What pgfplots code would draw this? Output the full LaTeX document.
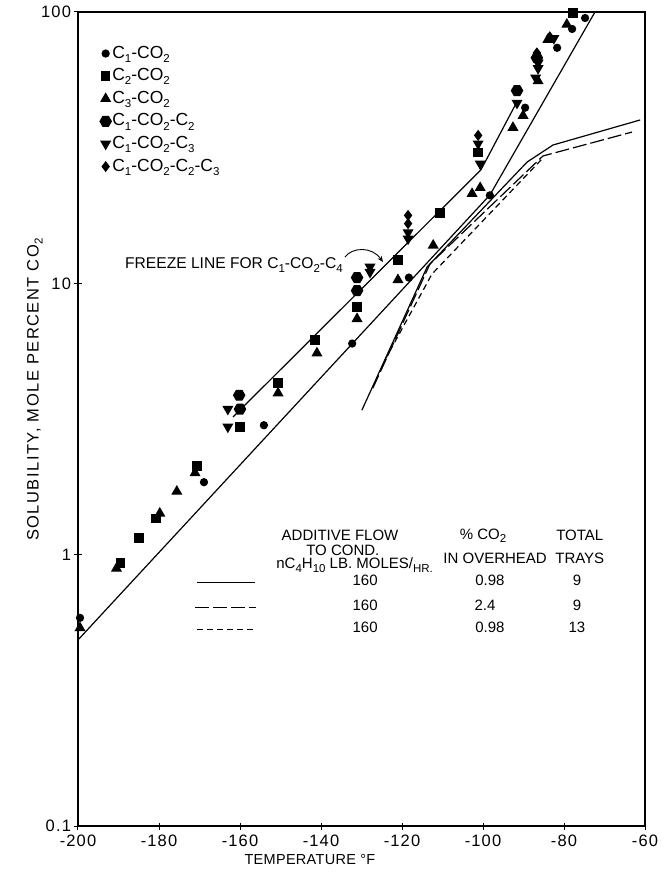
\documentclass[border=0pt]{standalone}
\usepackage{fontspec}
\setmainfont{Liberation Sans}
\usepackage{pgfplots}
\pgfplotsset{compat=1.18}
\usetikzlibrary{arrows.meta}

% lowered subscript in the lettering style
\newcommand\sub[1]{\raisebox{-0.45ex}{\fontsize{11.5}{11.5}\selectfont #1}}
\newcommand\lettering{\fontsize{15}{16}\selectfont}

% filled hexagon mark
\pgfdeclareplotmark{hexagon*}{%
  \pgfpathmoveto{\pgfpointpolar{0}{\pgfplotmarksize}}%
  \pgfpathlineto{\pgfpointpolar{60}{\pgfplotmarksize}}%
  \pgfpathlineto{\pgfpointpolar{120}{\pgfplotmarksize}}%
  \pgfpathlineto{\pgfpointpolar{180}{\pgfplotmarksize}}%
  \pgfpathlineto{\pgfpointpolar{240}{\pgfplotmarksize}}%
  \pgfpathlineto{\pgfpointpolar{300}{\pgfplotmarksize}}%
  \pgfpathclose
  \pgfusepathqfillstroke
}

\begin{document}
\begin{tikzpicture}
\begin{axis}[
  at={(0,0)}, anchor=south west,
  scale only axis, width=567pt, height=814pt,
  xmin=-200, xmax=-60,
  ymode=log, ymin=0.1, ymax=100,
  xtick={-200,-180,...,-60},
  xticklabels={-200,-180,-160,-140,-120,-100,-80,-60},
  ytick={0.1,1,10,100},
  yticklabels={0.1,1,10,100},
  yminorticks=false,
  tick pos=left,
  tick align=center,
  major tick length=7pt,
  axis line style={line width=1.5pt},
  tick style={line width=1pt, black},
  ticklabel style={font=\fontsize{16.5}{16.5}\selectfont\addfontfeature{LetterSpace=7}},
  xticklabel style={yshift=-1.5pt},
  xlabel={TEMPERATURE \textdegree F},
  xlabel style={at={(axis description cs:0.409,-0.041)}, anchor=center,
    font=\fontsize{14.5}{15}\selectfont\addfontfeature{LetterSpace=2}},
  ylabel={SOLUBILITY, MOLE PERCENT CO\sub{2}},
  ylabel style={at={(axis description cs:-0.076,0.536)}, anchor=center, rotate=0,
    font=\fontsize{16.5}{17}\selectfont\addfontfeature{LetterSpace=9}},
  legend style={at={(axis cs:-194.6,76)}, anchor=north west, draw=none, fill=none,
    font=\fontsize{17.5}{18}\selectfont, row sep=4.6pt, inner sep=0pt,
    nodes={inner sep=1pt, text height=12.5pt, text depth=3.5pt}},
  legend cell align=left,
  legend image code/.code={\draw[#1] plot coordinates {(4pt,0pt)};},
  every axis plot/.append style={line width=1.2pt},
]

% ---- measured solubility points ----
\addplot[only marks, mark=*, mark size=3.5pt, black] coordinates {
  (-199.5,0.585) (-168.9,1.85) (-154.1,3.0) (-132.3,6.0) (-118.3,10.5)
  (-98.3,21.1) (-89.6,44.4) (-81.7,73.8) (-78,86.6) (-74.8,95)
};
\addlegendentry{C\sub{1}-CO\sub{2}}

\addplot[only marks, mark=square*, mark size=4.2pt, black] coordinates {
  (-189.5,0.93) (-184.9,1.15) (-180.7,1.36) (-170.6,2.12) (-160,2.96)
  (-150.6,4.29) (-141.5,6.17) (-131.1,8.2) (-121,12.2) (-110.6,18.2)
  (-101.2,30.3) (-77.8,99)
};
\addlegendentry{C\sub{2}-CO\sub{2}}

\addplot[only marks, mark=triangle*, mark size=5.2pt, black] coordinates {
  (-199.5,0.537) (-190.5,0.89) (-179.8,1.42) (-175.6,1.71) (-171.1,2.0)
  (-150.6,3.94) (-141,5.53) (-131.1,7.4) (-121,10.3) (-112.3,13.8)
  (-102.7,21.4) (-100.7,22.5) (-92.6,37.5) (-90.1,41.5) (-86.4,55.7)
  (-84,79) (-79.3,90)
};
\addlegendentry{C\sub{3}-CO\sub{2}}

\addplot[only marks, mark=hexagon*, mark size=5.6pt, black] coordinates {
  (-160.2,3.87) (-160,3.44) (-131.1,10.5) (-131.1,9.4)
  (-91.6,51.3) (-86.7,67.8)
};
\addlegendentry{C\sub{1}-CO\sub{2}-C\sub{2}}

\addplot[only marks, mark=triangle*, mark size=5.2pt, mark options={rotate=180}, black] coordinates {
  (-163,3.44) (-163,2.96) (-127.9,11.5) (-127.9,11.0) (-118.5,15.4)
  (-118.5,14.6) (-101.2,32.7) (-100.7,27.6) (-91.6,46.2) (-87,57.2)
  (-86.4,64.9) (-86.4,62) (-82.5,80)
};
\addlegendentry{C\sub{1}-CO\sub{2}-C\sub{3}}

\addplot[only marks, mark=diamond*, mark size=4.6pt, black] coordinates {
  (-118.5,17.8) (-118.5,16.6) (-101.2,35.1) (-86.7,70.7) (-83.5,81)
};
\addlegendentry{C\sub{1}-CO\sub{2}-C\sub{2}-C\sub{3}}

% ---- correlation lines ----
\addplot[black, forget plot] coordinates {(-161.7,3.22) (-100.5,26.2) (-91.9,45.8)};
\addplot[black, forget plot] coordinates {(-200,0.485) (-98.3,21.16) (-72.35,100)};

% ---- column profiles ----
\addplot[black, forget plot] coordinates {
  (-129.9,3.41) (-113.8,11.49) (-89.1,28.0) (-82.7,32.35) (-61.2,40.0)};
\addplot[black, dash pattern=on 14pt off 4pt, forget plot] coordinates {
  (-127.2,4.11) (-113.1,11.78) (-85.2,29.47) (-63.2,36.1)};
\addplot[black, dash pattern=on 6pt off 4pt, forget plot] coordinates {
  (-124.2,5.22) (-112.6,10.82) (-85.2,28.97)};

% ---- freeze line annotation ----
\node[anchor=west, font=\fontsize{15.6}{16}\selectfont, inner sep=0pt] at (axis cs:-188.4,11.68)
  {FREEZE LINE FOR C\sub{1}-CO\sub{2}-C\sub{4}};
\draw[line width=0.9pt, -{Stealth[length=6pt,width=5pt]}]
  (axis cs:-134.1,12.5) .. controls (axis cs:-132.3,13.6) and (axis cs:-127.4,13.7) .. (axis cs:-124.7,11.98);

% ---- operating conditions table ----
\begin{scope}[every node/.style={font=\lettering, inner sep=0pt, anchor=center}]
\node at (axis cs:-135.3,1.175) {ADDITIVE FLOW};
\node at (axis cs:-134.6,1.035) {TO COND.};
\node at (axis cs:-131.7,0.916) {nC\sub{4}H\sub{10} LB. MOLES/\sub{HR.}};
\node at (axis cs:-100,1.175) {\% CO\sub{2}};
\node at (axis cs:-97,0.97) {IN OVERHEAD};
\node at (axis cs:-76.1,1.175) {TOTAL};
\node at (axis cs:-76.1,0.97) {TRAYS};
\node at (axis cs:-129.1,0.806) {160};
\node at (axis cs:-129.1,0.652) {160};
\node at (axis cs:-129.1,0.541) {160};
\node at (axis cs:-98.3,0.806) {0.98};
\node at (axis cs:-99.5,0.652) {2.4};
\node at (axis cs:-98.3,0.541) {0.98};
\node at (axis cs:-76.8,0.806) {9};
\node at (axis cs:-76.8,0.652) {9};
\node at (axis cs:-76.8,0.541) {13};
\end{scope}
\draw[line width=1.2pt] (axis cs:-170.6,0.79) -- (axis cs:-156.3,0.79);
\draw[line width=1.2pt, dash pattern=on 14pt off 4pt] (axis cs:-171,0.64) -- (axis cs:-156.1,0.64);
\draw[line width=1.2pt, dash pattern=on 6pt off 4pt] (axis cs:-170.6,0.531) -- (axis cs:-156.3,0.531);
\end{axis}
\pgfresetboundingbox
\useasboundingbox (-78pt,-46pt) rectangle (587pt,826pt);
\end{tikzpicture}
\end{document}
